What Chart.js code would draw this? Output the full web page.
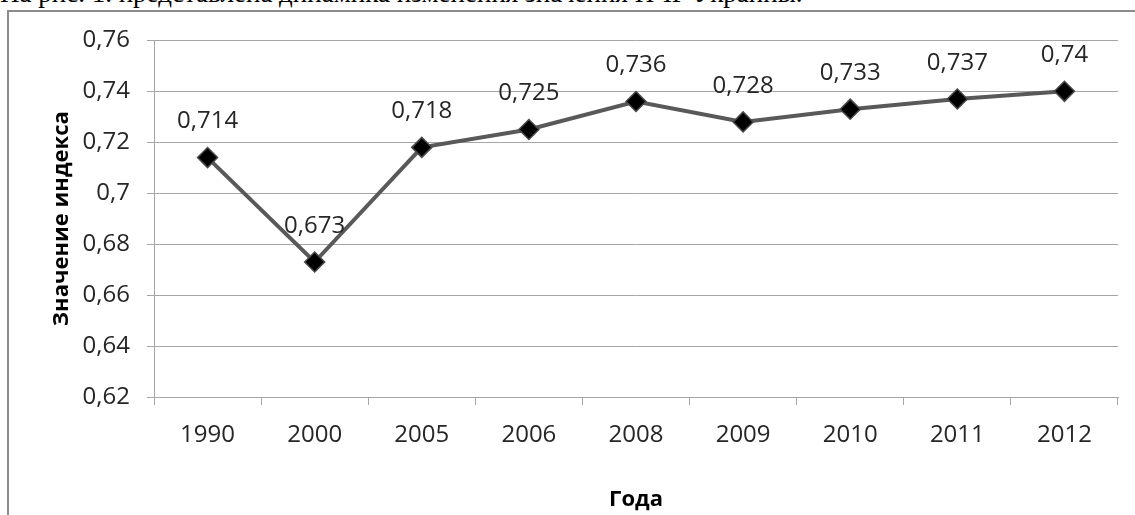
<!DOCTYPE html>
<html>
<head>
<meta charset="utf-8">
<script src="https://cdn.jsdelivr.net/npm/chart.js@4"></script>
<style>
  html, body { margin: 0; padding: 0; background: #fff; overflow: hidden; width: 1135px; height: 515px; }
  #caption {
    position: absolute; left: 0; top: -22px; white-space: nowrap;
    font-family: "Liberation Serif", serif; font-size: 27px; color: #000;
  }
  #box {
    position: absolute; left: 7px; top: 10px; width: 1200px; height: 600px;
    border: 2px solid #8c8c8c; background: #fff;
  }
  #wrap { position: absolute; left: 9px; top: 9px; width: 1126px; height: 506px; }
</style>
</head>
<body>
<div id="caption">На рис. 1. представлена динамика изменения значения ИЧР Украины.</div>
<div id="box"></div>
<div id="wrap"><canvas id="hdiChart"></canvas></div>
<script>
const years = ["1990", "2000", "2005", "2006", "2008", "2009", "2010", "2011", "2012"];
const hdiValues = [0.714, 0.673, 0.718, 0.725, 0.736, 0.728, 0.733, 0.737, 0.74];
const yTicks = [0.62, 0.64, 0.66, 0.68, 0.7, 0.72, 0.74, 0.76];

const fontFamily = "'Open Sans', sans-serif";

function fmt(v) {
    return String(Math.round(v * 1000) / 1000).replace(".", ",");
}

// labels above each point
const valueLabels = {
    id: "valueLabels",
    afterDatasetsDraw(chart) {
        const ctx = chart.ctx;
        const meta = chart.getDatasetMeta(0);
        ctx.save();
        ctx.font = "24px " + fontFamily;
        ctx.fillStyle = "#262626";
        ctx.textAlign = "center";
        ctx.textBaseline = "middle";
        meta.data.forEach(function(pt, i) {
            ctx.fillText(fmt(hdiValues[i]), pt.x, pt.y - 36);
        });
        ctx.restore();
    }
};

const ctx = document.getElementById("hdiChart");

new Chart(ctx, {
    type: "line",
    data: {
        labels: years,
        datasets: [{
            label: "ИЧР",
            data: hdiValues,
            borderColor: "#595959",
            borderWidth: 4,
            pointStyle: "rectRot",
            pointRadius: 10,
            pointHoverRadius: 10,
            pointBackgroundColor: "#000",
            pointBorderColor: "#4a4a4a",
            pointBorderWidth: 1.5,
            tension: 0
        }]
    },
    options: {
        responsive: true,
        maintainAspectRatio: false,
        animation: false,
        events: [],
        layout: { padding: { top: 16, right: 17, left: 0, bottom: 0 } },
        plugins: {
            legend: { display: false },
            tooltip: { enabled: false }
        },
        scales: {
            x: {
                offset: true,
                grid: {
                    display: true,
                    drawOnChartArea: false,
                    offset: true,
                    tickLength: 8,
                    color: "#a6a6a6",
                    lineWidth: 1
                },
                border: { color: "#a6a6a6", width: 1 },
                ticks: {
                    color: "#262626",
                    font: { family: fontFamily, size: 24 },
                    padding: 16,
                    maxRotation: 0
                },
                title: {
                    display: true,
                    text: "Года",
                    color: "#000",
                    font: { family: fontFamily, size: 22, weight: "bold" },
                    padding: { top: 8, bottom: 2 }
                },
                afterFit(scale) { scale.height = 118; }
            },
            y: {
                min: 0.62,
                max: 0.76,
                afterBuildTicks(scale) {
                    scale.ticks = yTicks.map(function(v) { return { value: v }; });
                },
                grid: {
                    color: "#a6a6a6",
                    lineWidth: 1,
                    tickLength: 7
                },
                border: { color: "#a6a6a6", width: 1 },
                ticks: {
                    color: "#262626",
                    font: { family: fontFamily, size: 24 },
                    padding: 17,
                    callback: function(v) { return fmt(v); }
                },
                title: {
                    display: true,
                    text: "Значение индекса",
                    color: "#000",
                    font: { family: fontFamily, size: 22, weight: "bold" },
                    padding: { top: 40, bottom: 0 }
                },
                afterFit(scale) { scale.width = 145; }
            }
        }
    },
    plugins: [valueLabels]
});
</script>
</body>
</html>
